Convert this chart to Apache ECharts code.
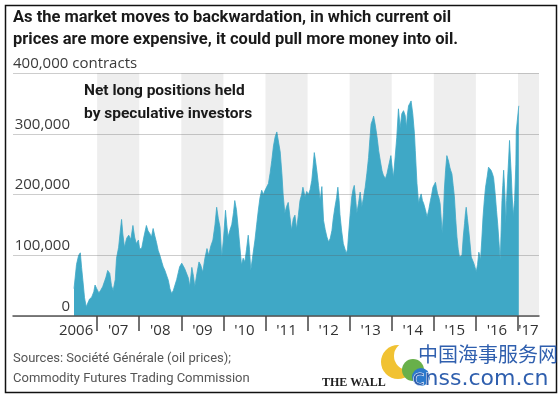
<!DOCTYPE html>
<html>
<head>
<meta charset="utf-8">
<script src="https://cdn.jsdelivr.net/npm/echarts@6/dist/echarts.min.js"></script>
<style>
  html, body { margin: 0; padding: 0; background: #fff; }
  #chart { width: 559px; height: 398px; }
</style>
</head>
<body>
<div id="chart"></div>
<script>
// weekly readings, decimal years
var weeks = [
  2006.45, 2006.51, 2006.56, 2006.60, 2006.63, 2006.66, 2006.70, 2006.74, 2006.77, 2006.82, 2006.87, 2006.92, 2006.95, 2006.99,
  2007.04, 2007.08, 2007.13, 2007.18, 2007.21, 2007.25, 2007.30, 2007.34, 2007.38, 2007.43, 2007.46, 2007.51, 2007.55, 2007.58,
  2007.61, 2007.65, 2007.70, 2007.75, 2007.80, 2007.85, 2007.89, 2007.93, 2007.98,
  2008.01, 2008.06, 2008.11, 2008.17, 2008.21, 2008.25, 2008.29, 2008.33, 2008.37, 2008.41, 2008.45, 2008.49, 2008.54, 2008.57,
  2008.61, 2008.69, 2008.73, 2008.77, 2008.81, 2008.85, 2008.89, 2008.93, 2008.96,
  2009.01, 2009.04, 2009.08, 2009.12, 2009.17, 2009.20, 2009.25, 2009.29, 2009.32, 2009.37, 2009.42, 2009.46, 2009.51, 2009.56,
  2009.61, 2009.65, 2009.70, 2009.75, 2009.80, 2009.84, 2009.88, 2009.92, 2009.96,
  2010.00, 2010.05, 2010.08, 2010.11, 2010.15, 2010.20, 2010.24, 2010.27, 2010.31, 2010.35, 2010.39, 2010.43, 2010.47, 2010.51,
  2010.55, 2010.59, 2010.62, 2010.65, 2010.69, 2010.75, 2010.79, 2010.83, 2010.87, 2010.91, 2010.95, 2010.99,
  2011.03, 2011.07, 2011.11, 2011.15, 2011.19, 2011.23, 2011.27, 2011.30, 2011.35, 2011.39, 2011.42, 2011.46, 2011.50, 2011.54,
  2011.58, 2011.62, 2011.66, 2011.70, 2011.74, 2011.78, 2011.82, 2011.86, 2011.89, 2011.94, 2011.98,
  2012.02, 2012.06, 2012.10, 2012.13, 2012.16, 2012.19, 2012.22, 2012.26, 2012.30, 2012.34, 2012.38, 2012.42, 2012.46, 2012.50,
  2012.54, 2012.58, 2012.61, 2012.65, 2012.69, 2012.72, 2012.75, 2012.77, 2012.81, 2012.85, 2012.89, 2012.92, 2012.95, 2012.97,
  2013.01, 2013.05, 2013.08, 2013.11, 2013.14, 2013.17, 2013.21, 2013.25, 2013.29, 2013.33, 2013.37, 2013.41, 2013.45, 2013.48,
  2013.51, 2013.54, 2013.57, 2013.60, 2013.63, 2013.66, 2013.69, 2013.73, 2013.77, 2013.80, 2013.85, 2013.89, 2013.92, 2013.98,
  2014.01, 2014.04, 2014.08, 2014.12, 2014.16, 2014.20, 2014.24, 2014.28, 2014.32, 2014.35, 2014.37, 2014.40, 2014.43, 2014.46,
  2014.50, 2014.54, 2014.56, 2014.60, 2014.64, 2014.67, 2014.70, 2014.73, 2014.76, 2014.80, 2014.84, 2014.88, 2014.92, 2014.95, 2014.98,
  2015.04, 2015.06, 2015.09, 2015.12, 2015.15, 2015.20, 2015.23, 2015.25, 2015.28, 2015.31, 2015.35, 2015.38, 2015.40, 2015.43,
  2015.46, 2015.49, 2015.52, 2015.55, 2015.58, 2015.61, 2015.64, 2015.67, 2015.70, 2015.73, 2015.75, 2015.77, 2015.80, 2015.83,
  2015.86, 2015.89, 2015.92, 2015.95, 2015.98,
  2016.01, 2016.04, 2016.07, 2016.09, 2016.11, 2016.14, 2016.17, 2016.20, 2016.23, 2016.27, 2016.30, 2016.33, 2016.36, 2016.39,
  2016.42, 2016.46, 2016.49, 2016.52, 2016.54, 2016.56, 2016.58, 2016.60, 2016.62, 2016.64, 2016.66, 2016.69, 2016.71, 2016.73,
  2016.76, 2016.78, 2016.80, 2016.82, 2016.84, 2016.86, 2016.89, 2016.90, 2016.92, 2016.95, 2016.96, 2016.99,
  2017.02
];

// net long positions, thousand contracts
var netLongK = [
  45, 85, 100, 104, 80, 59, 30, 15, 20, 28, 31, 40, 51, 45,
  38, 42, 48, 58, 64, 75, 70, 50, 42, 60, 95, 113, 140, 159,
  135, 113, 128, 133, 126, 149, 130, 119, 125,
  110, 112, 130, 149, 140, 136, 130, 144, 132, 121, 108, 100, 88, 81,
  75, 59, 45, 37, 42, 51, 60, 72, 81,
  87, 85, 78, 75, 62, 48, 80, 65, 48, 70, 89, 84, 72, 95,
  111, 100, 115, 125, 150, 179, 160, 146, 97,
  125, 174, 150, 130, 140, 151, 170, 190, 175, 146, 115, 84, 95, 89,
  110, 133, 110, 75, 95, 125, 150, 174, 195, 207, 200, 207,
  205, 218, 235, 256, 280, 295, 303, 300, 270, 234, 200, 169, 180, 187,
  185, 141, 160, 166, 143, 165, 190, 200, 212, 196, 205,
  200, 208, 223, 245, 269, 255, 239, 215, 190, 213, 157, 142, 130, 122,
  128, 141, 160, 179, 195, 212, 190, 167, 140, 119, 110, 103, 110, 130,
  165, 196, 208, 215, 195, 169, 185, 204, 180, 195, 212, 235, 261, 290,
  316, 322, 329, 318, 305, 290, 272, 255, 239, 232, 226, 235, 245, 264,
  245, 228, 260, 294, 341, 310, 333, 338, 330, 310, 330, 346, 350, 354,
  333, 300, 272, 218, 185, 195, 201, 190, 185, 175, 163, 175, 190, 200, 212,
  220, 212, 201, 195, 185, 136, 170, 207, 240, 264, 255, 245, 240, 234,
  215, 196, 160, 130, 110, 97, 98, 100, 130, 152, 168, 179, 160, 141,
  120, 97, 92, 87, 80,
  73, 85, 105, 100, 92, 125, 163, 190, 212, 230, 245, 242, 240, 235,
  228, 200, 174, 150, 130, 110, 92, 140, 190, 215, 240, 200, 152, 190,
  234, 260, 289, 260, 234, 200, 163, 175, 190, 250, 305, 305,
  346
];

var tickYears = [2007, 2008, 2009, 2010, 2011, 2012, 2013, 2014, 2015, 2016, 2017];
var yearLabels = ['2006', "'07", "'08", "'09", "'10", "'11", "'12", "'13", "'14", "'15", "'16", "'17"];
var shadedYears = [2007, 2009, 2011, 2013, 2015, 2017];

var title = [
  'As the market moves to backwardation, in which current oil',
  'prices are more expensive, it could pull more money into oil.'
];
var note = ['Net long positions held', 'by speculative investors'];
var sources = ['Sources: Société Générale (oil prices);', 'Commodity Futures Trading Commission'];

var BLUE = '#3fa8c6';
var narrow = '"Liberation Sans Narrow", "Roboto", sans-serif';
var plain = '"Open Sans", "Noto Sans", sans-serif';

var seriesData = [];
for (var i = 0; i < weeks.length; i++) {
  seriesData.push([weeks[i], netLongK[i] * 1000]);
}

// label under each year: centred in the year, the last one just after its tick
var labelPos = [];
for (var k = 0; k < yearLabels.length; k++) {
  var yr = 2006 + k;
  labelPos.push(yr === 2017 ? yr + 0.25 : yr + 0.5);
}

var bands = shadedYears.map(function (y) {
  return [{ xAxis: y }, { xAxis: Math.min(y + 1, 2017.5) }];
});

var myChart = echarts.init(document.getElementById('chart'), null, { renderer: 'canvas' });

var option = {
  animation: false,
  backgroundColor: '#fff',
  grid: { left: 13, right: 20, top: 73, bottom: 82 },
  xAxis: {
    type: 'value',
    min: 2005,
    max: 2017.5,
    z: 4,
    axisLine: { lineStyle: { color: '#555', width: 1.5 } },
    axisTick: {
      customValues: tickYears,
      length: 15,
      lineStyle: { color: '#444', width: 1.5 }
    },
    axisLabel: {
      customValues: labelPos,
      margin: 7,
      color: '#333',
      fontFamily: plain,
      fontSize: 15,
      formatter: function (v) {
        return yearLabels[Math.floor(v) - 2006];
      }
    },
    splitLine: { show: false }
  },
  yAxis: {
    type: 'value',
    min: 0,
    max: 400000,
    interval: 100000,
    z: 3,
    axisLine: { show: false },
    axisTick: { show: false },
    // gridlines sit faintly over the bars, as in the print
    splitLine: { lineStyle: { color: 'rgba(90,90,90,0.3)', width: 1 } },
    axisLabel: {
      inside: true,
      margin: 0,
      verticalAlign: 'bottom',
      color: '#3a3a3a',
      fontFamily: plain,
      fontSize: 15,
      formatter: function (v) {
        var s = v.toLocaleString('en-US');
        if (v === 400000) return '{top|' + s + ' contracts}';
        return '{num|' + s + '}';
      },
      rich: {
        num: { width: 57, align: 'right', padding: [0, 0, 2, 0], fontFamily: plain, fontSize: 15, color: '#3a3a3a' },
        top: { align: 'left', padding: [0, 0, 2, 0], fontFamily: plain, fontSize: 15, color: '#3a3a3a' }
      }
    }
  },
  series: [{
    type: 'line',
    data: seriesData,
    z: 2,
    silent: true,
    showSymbol: false,
    lineStyle: { color: BLUE, width: 0.8 },
    areaStyle: { color: BLUE, opacity: 1 },
    markArea: {
      silent: true,
      z: 0,
      itemStyle: { color: '#eeeeee' },
      data: bands
    }
  }],
  graphic: [
    { type: 'rect', left: 3, top: 3, z: 100, shape: { width: 551, height: 387 },
      style: { fill: null, stroke: '#111', lineWidth: 1.5 } },
    { type: 'text', left: 13, top: 9, z: 100,
      style: { text: title[0], font: 'bold 16.5px ' + narrow, fill: '#1a1a1a' } },
    { type: 'text', left: 13, top: 31, z: 100,
      style: { text: title[1], font: 'bold 16.5px ' + narrow, fill: '#1a1a1a' } },
    { type: 'text', left: 84, top: 83, z: 100,
      style: { text: note[0], font: 'bold 15.5px ' + narrow, fill: '#1a1a1a' } },
    { type: 'text', left: 84, top: 106, z: 100,
      style: { text: note[1], font: 'bold 15.5px ' + narrow, fill: '#1a1a1a' } },
    { type: 'text', left: 13, top: 352, z: 100,
      style: { text: sources[0], font: '13px ' + narrow, fill: '#555' } },
    { type: 'text', left: 13, top: 372, z: 100,
      style: { text: sources[1], font: '13px ' + narrow, fill: '#555' } },
    // watermark
    { type: 'text', left: 322, top: 377, z: 100,
      style: { text: 'THE WALL', font: 'bold 12px "Liberation Serif", serif', fill: '#222' } },
    { type: 'circle', z: 101, shape: { cx: 398, cy: 362, r: 17 }, style: { fill: '#f1c232' } },
    { type: 'circle', z: 102, shape: { cx: 408, cy: 356, r: 14 }, style: { fill: '#fff' } },
    { type: 'circle', z: 103, shape: { cx: 413, cy: 370, r: 11 }, style: { fill: '#68b04a' } },
    { type: 'circle', z: 104, shape: { cx: 421, cy: 377, r: 9 }, style: { fill: '#2c79cc' } },
    { type: 'text', left: 418, top: 344, z: 105,
      style: { text: '中国海事服务网', font: '20px "Noto Sans CJK SC"', fill: '#2f5fae' } },
    { type: 'text', left: 412, top: 368, z: 105,
      style: { text: 'cnss.com.cn', font: '22px "DejaVu Sans"', fill: '#2f5fae', stroke: '#fff', lineWidth: 1 } }
  ]
};

if (option && typeof option === 'object') {
  myChart.setOption(option);
}
</script>
</body>
</html>
